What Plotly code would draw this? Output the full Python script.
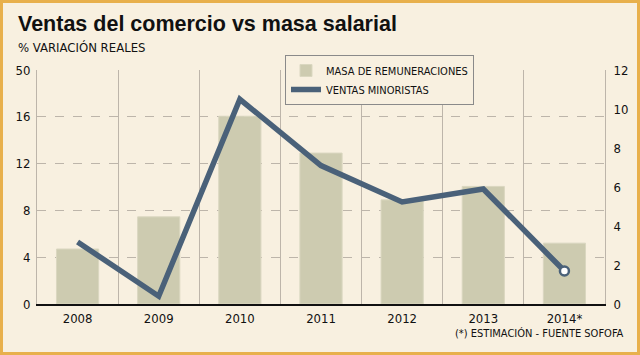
import plotly.graph_objects as go

years = ["2008", "2009", "2010", "2011", "2012", "2013", "2014*"]
masa_remuneraciones = [4.7, 7.45, 16.05, 12.9, 8.9, 10.05, 5.2]
ventas_minoristas = [3.18, 0.4, 10.5, 7.1, 5.23, 5.9, 1.69]
left_ticks = [0, 4, 8, 12, 16, 20]
left_ticktext = ["0", "4", "8", "12", "16", "50"]
right_ticks = [0, 2, 4, 6, 8, 10, 12]

BG = "#f8f0e0"
BAR = "#cdcbb0"
LINE = "#4a6179"
GRID = "#bdb5aa"
FONT = "DejaVu Sans Condensed, DejaVu Sans, sans-serif"
TFONT = "Liberation Sans, Arial, sans-serif"

W, H = 640, 355
L, R, T, B = 37, 35, 70, 51

fig = go.Figure()
fig.add_trace(go.Bar(
    x=years, y=masa_remuneraciones, name="MASA DE REMUNERACIONES",
    marker=dict(color=BAR, line=dict(color="#dad7c0", width=1)),
    width=0.52, yaxis="y"))
fig.add_trace(go.Scatter(
    x=years, y=ventas_minoristas, name="VENTAS MINORISTAS", mode="lines",
    line=dict(color=LINE, width=5.5), yaxis="y2"))
fig.add_trace(go.Scatter(
    x=years[-1:], y=ventas_minoristas[-1:], mode="markers", showlegend=False,
    marker=dict(color="white", size=9, line=dict(color=LINE, width=2.5)),
    yaxis="y2"))

pw, ph = W - L - R, H - T - B

fig.update_layout(
    width=W, height=H,
    margin=dict(l=L, r=R, t=T, b=B),
    paper_bgcolor=BG, plot_bgcolor=BG,
    font=dict(family=FONT, size=13, color="#111"),
    showlegend=True,
    legend=dict(x=(285 - L) / pw, y=1 + (T - 55) / ph,
                xanchor="left", yanchor="top",
                bgcolor=BG, bordercolor="#8a8a8a", borderwidth=1,
                font=dict(size=11), tracegroupgap=0, itemwidth=30),
    xaxis=dict(type="category", range=[-0.5, 6.5], tickson="boundaries",
               showgrid=True, gridcolor=GRID, gridwidth=1,
               showline=True, linecolor="#111", linewidth=2,
               ticks="", layer="below traces", ticklabelstandoff=1),
    yaxis=dict(range=[0, 20], tickvals=left_ticks, ticktext=left_ticktext,
               showgrid=True, gridcolor=GRID, griddash="dash", gridwidth=1,
               showline=True, linecolor=GRID, linewidth=1,
               zeroline=False, ticks="", ticklabelstandoff=3),
    yaxis2=dict(range=[0, 12], tickvals=right_ticks, overlaying="y", side="right",
                showgrid=False, showline=True, linecolor=GRID, linewidth=1,
                zeroline=False, ticks="", ticklabelstandoff=5),
    bargap=0.48,
)

fig.add_annotation(text="<b>Ventas del comercio vs masa salarial</b>",
                   xref="paper", yref="paper", x=(16 - L) / pw, y=1 + (T - 10) / ph,
                   xanchor="left", yanchor="top", showarrow=False,
                   font=dict(family=TFONT, size=21.5, color="#111"))
fig.add_annotation(text="% VARIACIÓN REALES",
                   xref="paper", yref="paper", x=(16 - L) / pw, y=1 + (T - 38) / ph,
                   xanchor="left", yanchor="top", showarrow=False,
                   font=dict(family=FONT, size=13, color="#111"))
fig.add_annotation(text="(*) ESTIMACIÓN - FUENTE SOFOFA",
                   xref="paper", yref="paper", x=1 + (R - 14) / pw, y=-(325 - (H - B)) / ph,
                   xanchor="right", yanchor="top", showarrow=False,
                   font=dict(family=FONT, size=11, color="#111"))
fig.add_shape(type="rect", xref="paper", yref="paper",
              x0=-(L - 1.5) / pw, x1=1 + (R - 1.5) / pw,
              y0=-(B - 1.5) / ph, y1=1 + (T - 1.5) / ph,
              line=dict(color="#e8b04c", width=3), layer="below")

fig.write_html("out.html", config={"displayModeBar": False},
               post_script="document.body.style.margin='0';document.body.style.padding='0';")
